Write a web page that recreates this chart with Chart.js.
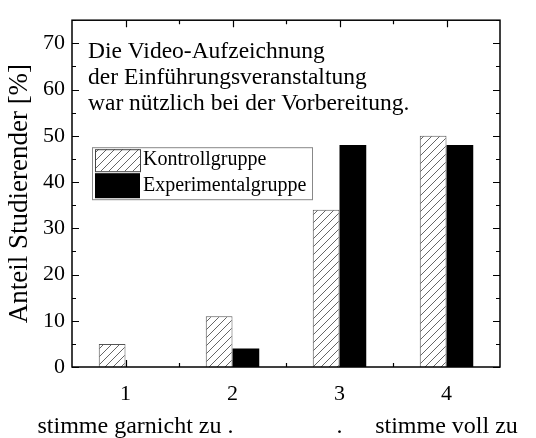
<!DOCTYPE html>
<html><head><meta charset="utf-8">
<script src="https://cdn.jsdelivr.net/npm/chart.js@4"></script>
<style>html,body{margin:0;padding:0;background:#fff}#wrap{width:536px;height:438px}</style>
</head><body><div id="wrap"><canvas id="c" width="536" height="438"></canvas></div>
<script>
const categories = ['1','2','3','4'];
const kontrollgruppe = [5, 11, 34, 50];
const experimentalgruppe = [0, 4, 48, 48];
const seriesNames = ['Kontrollgruppe', 'Experimentalgruppe'];
const yTickLabels = [0, 10, 20, 30, 40, 50, 60, 70];
const yAxisTitle = 'Anteil Studierender [%]';
const annotationLines = ['Die Video-Aufzeichnung', 'der Einführungsveranstaltung', 'war nützlich bei der Vorbereitung.'];
const scaleCaptions = ['stimme garnicht zu .', '.', 'stimme voll zu'];

const SERIF = '"Liberation Serif", "Times New Roman", serif';

function makeHatch() {
  const s = 8;
  const pc = document.createElement('canvas');
  pc.width = s; pc.height = s;
  const g = pc.getContext('2d');
  g.fillStyle = '#fff'; g.fillRect(0, 0, s, s);
  g.strokeStyle = '#555'; g.lineWidth = 0.9;
  g.beginPath();
  g.moveTo(0, s); g.lineTo(s, 0);
  g.moveTo(-s / 2, s / 2); g.lineTo(s / 2, -s / 2);
  g.moveTo(s / 2, s * 1.5); g.lineTo(s * 1.5, s / 2);
  g.stroke();
  return document.getElementById('c').getContext('2d').createPattern(pc, 'repeat');
}
const hatch = makeHatch();

const framePlugin = {
  id: 'frame',
  afterDatasetsDraw(chart) {
    const ctx = chart.ctx, a = chart.chartArea;
    const xs = chart.scales.x, ys = chart.scales.y;
    ctx.save();
    ctx.strokeStyle = '#000';
    ctx.lineWidth = 1.5;
    ctx.strokeRect(a.left, a.top, a.right - a.left, a.bottom - a.top);
    ctx.lineWidth = 1.2;
    ctx.beginPath();
    for (let v = ys.min; v <= ys.max; v += 5) {
      const y = Math.round(ys.getPixelForValue(v)) + 0.5;
      const len = (v % 10 === 0) ? 7 : 4;
      ctx.moveTo(a.left, y); ctx.lineTo(a.left + len, y);
      ctx.moveTo(a.right, y); ctx.lineTo(a.right - len, y);
    }
    const centers = categories.map((_, i) => xs.getPixelForValue(i));
    const minors = [];
    for (let i = 0; i < centers.length - 1; i++) minors.push((centers[i] + centers[i + 1]) / 2);
    centers.forEach(x => {
      x = Math.round(x) + 0.5;
      ctx.moveTo(x, a.bottom); ctx.lineTo(x, a.bottom - 7);
      ctx.moveTo(x, a.top); ctx.lineTo(x, a.top + 7);
    });
    minors.forEach(x => {
      x = Math.round(x) + 0.5;
      ctx.moveTo(x, a.bottom); ctx.lineTo(x, a.bottom - 4);
      ctx.moveTo(x, a.top); ctx.lineTo(x, a.top + 4);
    });
    ctx.stroke();

    // annotation text
    ctx.fillStyle = '#000';
    ctx.font = '23.5px ' + SERIF;
    ctx.textAlign = 'left';
    ctx.textBaseline = 'middle';
    annotationLines.forEach((t, i) => ctx.fillText(t, a.left + 16, a.top + 32 + i * 26));

    // legend
    const lx = a.left + 20, ly = a.top + 127, lw = 220, lh = 52;
    ctx.fillStyle = '#fff';
    ctx.fillRect(lx, ly, lw, lh);
    ctx.strokeStyle = '#888'; ctx.lineWidth = 1;
    ctx.strokeRect(lx + 0.5, ly + 0.5, lw, lh);
    const ds = chart.data.datasets;
    const sw = 45;
    ctx.fillStyle = ds[0].backgroundColor;
    ctx.fillRect(lx + 3, ly + 2, sw, 22);
    ctx.strokeStyle = '#444';
    ctx.strokeRect(lx + 3.5, ly + 2.5, sw, 22);
    ctx.fillStyle = ds[1].backgroundColor;
    ctx.fillRect(lx + 3, ly + 26, sw, 25);
    ctx.fillStyle = '#000';
    ctx.font = '20px ' + SERIF;
    ctx.fillText(ds[0].label, lx + 51, ly + 13);
    ctx.fillText(ds[1].label, lx + 51, ly + 39);

    // scale captions under the x axis
    ctx.font = '24px ' + SERIF;
    ctx.textAlign = 'center';
    ctx.textBaseline = 'alphabetic';
    const cy = chart.height - 5;
    ctx.fillText(scaleCaptions[0], centers[0] + 10, cy);
    ctx.fillText(scaleCaptions[1], centers[2], cy);
    ctx.fillText(scaleCaptions[2], centers[3], cy);
    ctx.restore();
  }
};

new Chart(document.getElementById('c'), {
  type: 'bar',
  data: {
    labels: categories,
    datasets: [
      { label: seriesNames[0], data: kontrollgruppe, backgroundColor: hatch, borderColor: '#555', borderWidth: 1, categoryPercentage: 0.5, barPercentage: 1.0 },
      { label: seriesNames[1], data: experimentalgruppe, backgroundColor: '#000', borderColor: '#000', borderWidth: 0, categoryPercentage: 0.5, barPercentage: 1.0 }
    ]
  },
  options: {
    responsive: false,
    animation: false,
    devicePixelRatio: 1,
    layout: { padding: { top: 14, right: 36, left: 0, bottom: 0 } },
    plugins: { legend: { display: false }, tooltip: { enabled: false } },
    scales: {
      x: {
        grid: { display: false, drawTicks: false },
        border: { display: false },
        ticks: { color: '#000', font: { family: SERIF, size: 22 }, padding: 14 },
        afterFit: s => { s.height = 71; }
      },
      y: {
        min: 0, max: 75,
        grid: { display: false, drawTicks: false },
        border: { display: false },
        ticks: {
          stepSize: 5, color: '#000', font: { family: SERIF, size: 22 }, padding: 7,
          callback: v => yTickLabels.includes(v) ? String(v) : ''
        },
        title: { display: true, text: yAxisTitle, color: '#000', font: { family: SERIF, size: 27 }, padding: { top: 4, bottom: 0 } },
        afterFit: s => { s.width = 72; }
      }
    }
  },
  plugins: [framePlugin]
});
</script>
</body></html>
